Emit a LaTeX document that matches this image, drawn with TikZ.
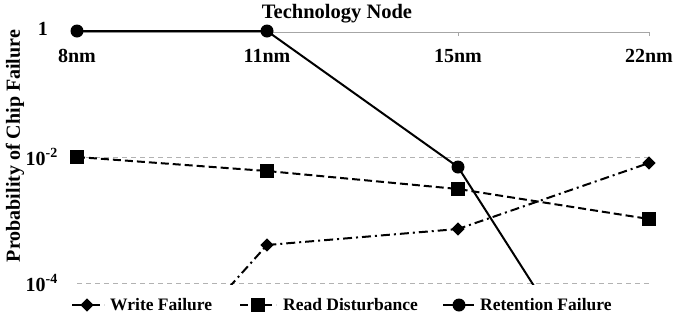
\documentclass[tikz,border=0pt]{standalone}
\usepackage{fontspec}
\setmainfont{Liberation Serif}
\usetikzlibrary{shapes.geometric}
\tikzset{
  grid/.style={gray!60, line width=0.9pt, dash pattern=on 5pt off 4pt},
  axisline/.style={gray!70, line width=0.9pt},
  series/.style={black, line width=2pt},
  rd/.style={series, dash pattern=on 8pt off 4pt},
  wf/.style={series, dash pattern=on 9pt off 4pt on 2pt off 4pt},
  rf/.style={series},
  circmark/.style={circle, fill=black, inner sep=0pt, minimum size=13pt},
  sqmark/.style={rectangle, fill=black, inner sep=0pt, minimum size=13.5pt},
  diamark/.style={diamond, fill=black, inner sep=0pt, minimum size=13.5pt},
  lbl/.style={inner sep=0pt},
  legtext/.style={lbl, anchor=west, font=\bfseries\fontsize{17.5}{21}\selectfont},
}
\begin{document}
\begin{tikzpicture}[x=1pt, y=-1pt, font=\bfseries\fontsize{20}{24}\selectfont]
\useasboundingbox (0,0) rectangle (673,322);

% horizontal gridlines for 10^-2 and 10^-4
\draw[grid] (77,157) -- (650,157);
\draw[grid] (77,283) -- (650,283);

% category axis at the top
\draw[axisline] (77,32) -- (649,32);
\foreach \xx in {77,267,458,649} \draw[axisline] (\xx,32) -- (\xx,36);

% axis titles and labels
\node[lbl, font=\bfseries\fontsize{20.5}{24}\selectfont] (title) at (337,14) {Technology Node};
\node[lbl] (c8)  at (77,56)  {8nm};
\node[lbl] (c11) at (267,56) {11nm};
\node[lbl] (c15) at (458,56) {15nm};
\node[lbl] (c22) at (649,56) {22nm};
\node[lbl, anchor=east] (y0) at (48,29) {1};
\node[lbl, anchor=east] (y2) at (58,157) {10\textsuperscript{-2}};
\node[lbl, anchor=east] (y4) at (58,283) {10\textsuperscript{-4}};
\node[lbl, rotate=90] (ytitle) at (15,146) {Probability of Chip Failure};

% data points
\coordinate (r8)  at (77,31);
\coordinate (r11) at (267,31);
\coordinate (r15) at (458,167);
\coordinate (r22) at (649,466);
\coordinate (d8)  at (77,157);
\coordinate (d11) at (267,171);
\coordinate (d15) at (458,189);
\coordinate (d22) at (649,219);
\coordinate (w8)  at (77,457);
\coordinate (w11) at (267,245);
\coordinate (w15) at (458,229);
\coordinate (w22) at (649,163);

% series lines, clipped at the plot floor
\begin{scope}
  \clip (0,0) rectangle (673,284);
  \draw[wf] (w8) -- (w11) -- (w15) -- (w22);
  \draw[rd] (d8) -- (d11) -- (d15) -- (d22);
  \draw[rf] (r8) -- (r11) -- (r15) -- (r22);
\end{scope}

% markers
\node[diamark] (mw11) at (w11) {};
\node[diamark] (mw15) at (w15) {};
\node[diamark] (mw22) at (w22) {};
\node[sqmark] (md8)  at (d8)  {};
\node[sqmark] (md11) at (d11) {};
\node[sqmark] (md15) at (d15) {};
\node[sqmark] (md22) at (d22) {};
\node[circmark] (mr8)  at (r8)  {};
\node[circmark] (mr11) at (r11) {};
\node[circmark] (mr15) at (r15) {};

% legend
\coordinate (lw1) at (72,305);  \coordinate (lw2) at (104,305);
\draw[wf] (lw1) -- (lw2);
\node[diamark] (lwm) at (87,305) {};
\node[legtext] (lwt) at (110,305) {Write Failure};

\coordinate (ld1) at (240,305); \coordinate (ld2) at (276,305);
\draw[rd] (ld1) -- (ld2);
\node[sqmark] (ldm) at (258,305) {};
\node[legtext] (ldt) at (283,305) {Read Disturbance};

\coordinate (lr1) at (443,305); \coordinate (lr2) at (474,305);
\draw[rf] (lr1) -- (lr2);
\node[circmark] (lrm) at (459,305) {};
\node[legtext] (lrt) at (480,305) {Retention Failure};
\end{tikzpicture}
\end{document}
